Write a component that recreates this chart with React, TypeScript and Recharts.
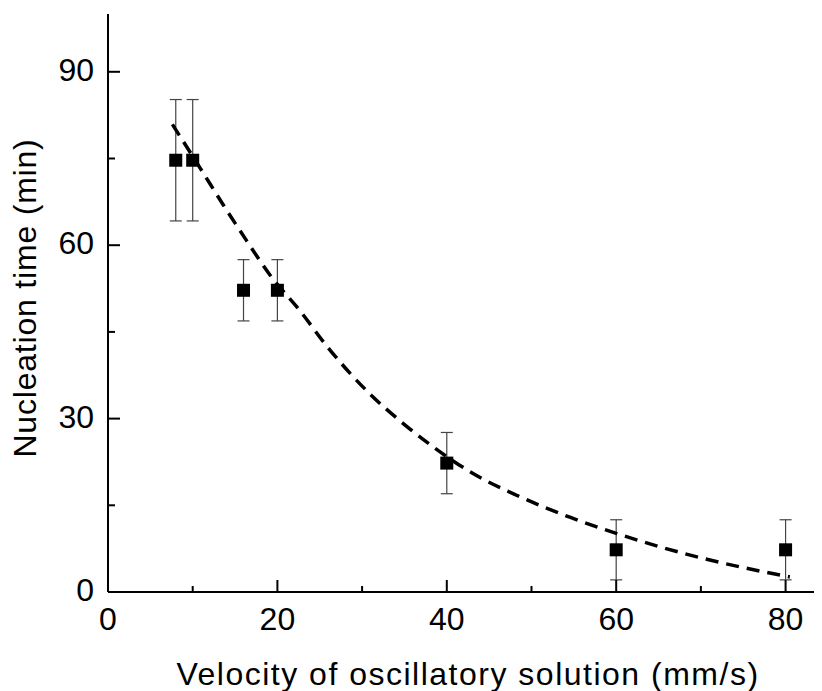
import { ComposedChart, XAxis, YAxis, Scatter, Line, ErrorBar, Label } from "recharts";

// measured points
const velocity = [8, 10, 16, 20, 40, 60, 80];
const nucTime = [74.7, 74.7, 52.2, 52.2, 22.3, 7.3, 7.3];
const nucErr = [10.5, 10.5, 5.3, 5.3, 5.3, 5.2, 5.2];

// fitted decay curve
const fitVelocity = [7.6, 10.9, 13.6, 16.4, 19.1, 22.7, 25.8, 30.9, 34.9, 38.4, 43.1, 48.3, 54.6, 60.1, 65.2, 70.3, 75.4, 80.5];
const fitTime = [80.9, 73.3, 67.0, 60.7, 54.9, 48.6, 42.6, 34.3, 29.1, 25.1, 20.5, 16.7, 12.9, 10.1, 7.8, 5.8, 4.1, 2.6];

const xTicks = [0, 10, 20, 30, 40, 50, 60, 70, 80];
const yTicks = [0, 15, 30, 45, 60, 75, 90];

const FONT = "'Liberation Sans', Arial, sans-serif";

const points = velocity.map((v, i) => ({ x: v, y: nucTime[i], err: nucErr[i] }));
const fit = fitVelocity.map((v, i) => ({ x: v, y: fitTime[i] }));

const XTick = ({ x, y, payload }: any) => {
  const major = payload.value % 20 === 0;
  return (
    <g>
      <line x1={x} x2={x} y1={y} y2={y - (major ? 12 : 6)} stroke="#000" strokeWidth={2} />
      {major && (
        <text x={x} y={y + 38} textAnchor="middle" fontSize={32} fontFamily={FONT} fill="#000">
          {payload.value}
        </text>
      )}
    </g>
  );
};

const YTick = ({ x, y, payload }: any) => {
  const major = payload.value % 30 === 0;
  return (
    <g>
      <line x1={x} x2={x + (major ? 12 : 7)} y1={y} y2={y} stroke="#000" strokeWidth={2} />
      {major && (
        <text x={x - 14} y={y + 9} textAnchor="end" fontSize={32} fontFamily={FONT} fill="#000">
          {payload.value}
        </text>
      )}
    </g>
  );
};

const Square = ({ cx, cy }: any) => <rect x={cx - 6.5} y={cy - 6.5} width={13} height={13} fill="#000" />;

export default function App() {
  return (
    <ComposedChart width={814} height={683} margin={{ top: 6, right: 0, bottom: 0, left: 0 }}>
      <XAxis
        dataKey="x"
        type="number"
        domain={[0, 84.3]}
        ticks={xTicks}
        allowDataOverflow
        height={99}
        tickSize={0}
        tickMargin={0}
        tickLine={false}
        tick={<XTick />}
        axisLine={{ stroke: "#000", strokeWidth: 2 }}
      >
        <Label
          content={({ viewBox }: any) => (
            <text
              x={viewBox.x + viewBox.width / 2 + 3}
              y={viewBox.y + 93}
              textAnchor="middle"
              fontSize={32}
              letterSpacing={1.5}
              fontFamily={FONT}
              fill="#000"
            >
              Velocity of oscillatory solution (mm/s)
            </text>
          )}
        />
      </XAxis>
      <YAxis
        dataKey="y"
        type="number"
        domain={[0, 100]}
        ticks={yTicks}
        allowDataOverflow
        width={100}
        tickSize={0}
        tickMargin={0}
        tickLine={false}
        tick={<YTick />}
        axisLine={{ stroke: "#000", strokeWidth: 2 }}
      >
        <Label
          content={({ viewBox }: any) => {
            const cx = 28;
            const cy = viewBox.y + viewBox.height / 2 - 5;
            return (
              <text
                x={cx}
                y={cy}
                transform={`rotate(-90, ${cx}, ${cy})`}
                textAnchor="middle"
                fontSize={32}
                letterSpacing={0.8}
                fontFamily={FONT}
                fill="#000"
              >
                Nucleation time (min)
              </text>
            );
          }}
        />
      </YAxis>
      <Scatter data={points} dataKey="y" shape={<Square />} isAnimationActive={false}>
        <ErrorBar dataKey="err" direction="y" width={6} stroke="#444" strokeWidth={1.2} />
      </Scatter>
      <Line
        data={fit}
        dataKey="y"
        type="monotone"
        stroke="#000"
        strokeWidth={3.5}
        strokeDasharray="13 8"
        dot={false}
        activeDot={false}
        isAnimationActive={false}
      />
    </ComposedChart>
  );
}
